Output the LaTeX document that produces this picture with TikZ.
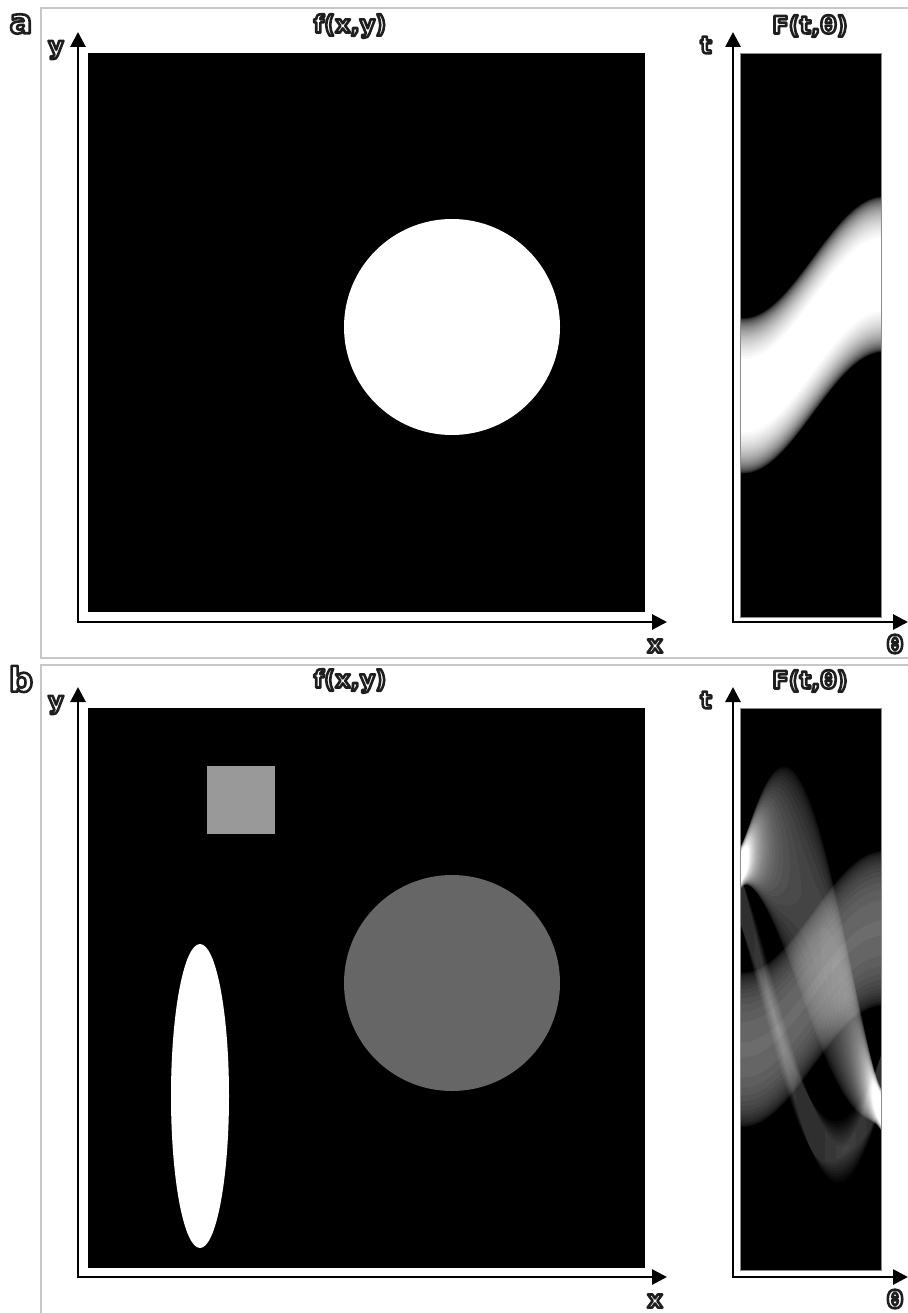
\documentclass[tikz,border=0pt]{standalone}
\usepackage{fontspec}
\setmainfont{DejaVu Sans}
\usetikzlibrary{arrows.meta}

% white letters with a dark rim (fill, then stroke the glyphs)
\newcommand{\hollow}[1]{\textcolor{white}{\special{pdf:code q 2 Tr 2.6 w 1 j 0.12 G}#1\special{pdf:code Q}}}
% one level band of a sinogram: domain #1 to #2, centre #3, half width #4
\newcommand{\band}[4]{plot[domain=#1:#2, samples=41] ({th(\x)}, {\yc+0.7185*(#3-#4)})
    -- plot[domain=#2:#1, samples=41] ({th(\x)}, {\yc+0.7185*(#3+#4)}) -- cycle}

\begin{document}
\begin{tikzpicture}[x=1pt, y=-1pt,
        % Define the styles for frames, axes and labels
        frame/.style={draw=black!22, line width=1.6pt},
        axes/.style={line width=2.8pt, line join=miter,
            {Triangle[length=15pt,width=15pt]}-{Triangle[length=15pt,width=15pt]}},
        lbl/.style={inner sep=0pt, font=\bfseries\fontsize{24}{27}\selectfont},
        tag/.style={inner sep=0pt, font=\bfseries\fontsize{34}{37}\selectfont},
        rim/.style={draw=black!45, line width=0.8pt},
        % projections (t = x cos + y sin) and half widths of the level bands
        declare function={
            th(\t)=740+(\t/180)*141;
            tA(\t)=84.5*cos(\t)+5.5*sin(\t);
            hA(\v)=108*sqrt(max(0,1-(\v/216)^2));
            tC(\t)=84.5*cos(\t)+5*sin(\t);
            hC(\v)=108*sqrt(max(0,1-(\v/86.4)^2));
            tE(\t)=-167.5*cos(\t)-108*sin(\t);
            sigE(\t)=sqrt(8.41*cos(\t)*cos(\t)+231.04*sin(\t)*sin(\t));
            hE(\t,\v)=10*sigE(\t)*sqrt(max(0,1-(\v*sigE(\t)/881.6)^2));
            tS(\t)=-126.5*cos(\t)+188*sin(\t);
            mS(\t)=max(abs(cos(\t)),abs(sin(\t)));
            wS(\t)=34*(abs(cos(\t))+abs(sin(\t)));
            vS(\t)=34*abs(abs(cos(\t))-abs(sin(\t)));
            hS(\t,\v)=ifthenelse(\v*mS(\t)<=40.8, wS(\t)-(wS(\t)-vS(\t))*\v*mS(\t)/40.8, 0);
        }]

        \useasboundingbox (0,0) rectangle (907,1313);

        % 1. Frames of the two panels
        \draw[frame] (41,8) rectangle (920,658);
        \draw[frame] (41,665) rectangle (920,1330);

        % 2. Axes and labels, the same in both panels
        \foreach \p/\dy in {a/0, b/655} {
            \coordinate (ytip\p) at (78,32+\dy);
            \coordinate (xtip\p) at (667,622+\dy);
            \coordinate (ttip\p) at (733,32+\dy);
            \coordinate (thtip\p) at (908,622+\dy);
            \draw[axes] (ytip\p) |- (xtip\p);
            \draw[axes] (ttip\p) |- (thtip\p);

            \node[tag] (tag\p) at (21,24+\dy) {\hollow{\p}};
            \node[lbl] (f\p) at (350,26+\dy) {\hollow{f(x,y)}};
            \node[lbl] (F\p) at (810,26+\dy) {\hollow{F(t,θ)}};
            \node[lbl] (y\p) at (56,50+\dy) {\hollow{y}};
            \node[lbl] (t\p) at (706,45+\dy) {\hollow{t}};
            \node[lbl] (x\p) at (655,646+\dy) {\hollow{x}};
            \node[lbl] (th\p) at (895,644+\dy) {\hollow{θ}};
        }

        % 3. Panel a: one disc and its sinogram
        \fill (88,53) rectangle (645,612);
        \fill[white] (452,327) circle (108pt);

        \def\yc{335}
        \fill (740,53) rectangle (881,617);
        \begin{scope}
            \clip (740,53) rectangle (881,617);
            \foreach \k in {1,...,40} {
                \pgfmathsetmacro\lev{4.75*\k}
                \pgfmathsetmacro\gr{2.5*\k}
                \fill[white!\gr!black] \band{0}{180}{tA(\x)}{hA(\lev)};
            }
        \end{scope}
        \draw[rim] (740,53) rectangle (881,617);

        % 4. Panel b: square, disc and ellipse
        \fill (88,708) rectangle (645,1268);
        \fill[white!60!black] (207,766) rectangle (275,834);
        \fill[white!40!black] (452,983) circle (108pt);
        \fill[white] (200,1096) ellipse [x radius=29pt, y radius=152pt];

        % 5. Panel b: the sinogram, bands added with screen blending
        \def\yc{989}
        \fill (740,708) rectangle (881,1270);
        \begin{scope}
            \clip (740,708) rectangle (881,1270);
            \begin{scope}[blend mode=screen]
                % disc
                \foreach \k in {1,...,16} {
                    \pgfmathsetmacro\lev{5.375*\k}
                    \pgfmathsetmacro\gr{250/(100-2.5*(\k-1))}
                    \fill[white!\gr!black] \band{0}{180}{tC(\x)}{hC(\lev)};
                }
                % square
                \foreach \k in {1,...,10} {
                    \pgfmathsetmacro\lev{5.375*\k}
                    \pgfmathsetmacro\gr{250/(100-2.5*(\k-1))}
                    \ifdim\lev pt>40.8pt
                        \pgfmathsetmacro\al{acos(40.8/\lev)}
                        \pgfmathsetmacro\be{90-\al}
                        \pgfmathsetmacro\ga{90+\al}
                        \pgfmathsetmacro\de{180-\al}
                        \fill[white!\gr!black] \band{\al}{\be}{tS(\x)}{hS(\x,\lev)};
                        \fill[white!\gr!black] \band{\ga}{\de}{tS(\x)}{hS(\x,\lev)};
                    \else
                        \fill[white!\gr!black] \band{0}{180}{tS(\x)}{hS(\x,\lev)};
                    \fi
                }
                % ellipse
                \foreach \k in {1,...,40} {
                    \pgfmathsetmacro\lev{5.375*\k}
                    \pgfmathsetmacro\gr{250/(100-2.5*(\k-1))}
                    \pgfmathsetmacro\sq{(59.085/\lev)^2-0.037776}
                    \pgfmathsetmacro\lim{asin(sqrt(max(0,min(1,\sq))))}
                    \ifdim\lim pt<89.9pt
                        \pgfmathsetmacro\ga{180-\lim}
                        \fill[white!\gr!black] \band{0}{\lim}{tE(\x)}{hE(\x,\lev)};
                        \fill[white!\gr!black] \band{\ga}{180}{tE(\x)}{hE(\x,\lev)};
                    \else
                        \fill[white!\gr!black] \band{0}{180}{tE(\x)}{hE(\x,\lev)};
                    \fi
                }
            \end{scope}
        \end{scope}
        \draw[rim] (740,708) rectangle (881,1270);
    \end{tikzpicture}
\end{document}
